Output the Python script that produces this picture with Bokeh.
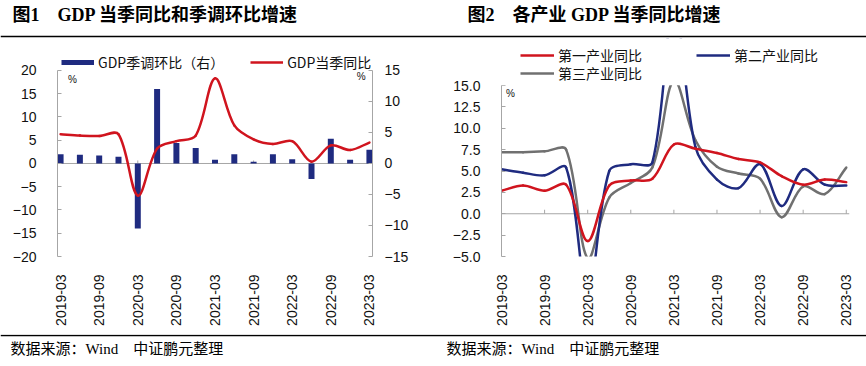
import math
from bokeh.plotting import figure
from bokeh.models import (Range1d, LinearAxis, Span, Label, Legend, LegendItem,
                          ColumnDataSource, FixedTicker, BoxAnnotation)
from bokeh.layouts import column, row
from bokeh.embed import file_html
from bokeh.resources import INLINE
from bokeh.core.properties import value

# ---------------- data ----------------
quarters = ["2019-03", "2019-06", "2019-09", "2019-12",
            "2020-03", "2020-06", "2020-09", "2020-12",
            "2021-03", "2021-06", "2021-09", "2021-12",
            "2022-03", "2022-06", "2022-09", "2022-12",
            "2023-03"]
x_tick_idx = [0, 2, 4, 6, 8, 10, 12, 14, 16]

# chart 1
gdp_qoq = [1.5, 1.4, 1.3, 1.1, -10.5, 12.0, 3.3, 2.5, 0.6, 1.5, 0.3, 1.5, 0.7, -2.5, 4.0, 0.6, 2.2]
gdp_yoy = [6.3, 6.0, 5.9, 6.3, -6.9, 3.2, 4.8, 6.0, 18.3, 8.2, 5.2, 4.2, 4.8, 0.4, 3.9, 2.9, 4.5]

# chart 2
primary_yoy = [2.7, 3.3, 2.7, 3.4, -3.2, 3.3, 3.9, 4.1, 8.1, 7.6, 7.1, 6.4, 6.0, 4.4, 3.4, 4.0, 3.7]
secondary_yoy = [5.2, 4.8, 4.5, 5.4, -9.6, 5.0, 5.8, 6.0, 24.4, 7.8, 4.0, 3.0, 5.8, 0.9, 5.2, 3.4, 3.3]
tertiary_yoy = [7.2, 7.2, 7.3, 7.5, -5.2, 1.9, 3.6, 5.4, 15.6, 8.6, 5.5, 4.7, 4.1, -0.4, 3.2, 2.3, 5.4]

left1_ticks = [-20, -15, -10, -5, 0, 5, 10, 15, 20]
left1_labels = ["−20", "−15", "−10", "−5", "0", "5", "10", "15", "20"]
right1_ticks = [-15, -10, -5, 0, 5, 10, 15]
right1_labels = ["−15", "−10", "−5", "0", "5", "10", "15"]
left2_ticks = [-5.0, -2.5, 0.0, 2.5, 5.0, 7.5, 10.0, 12.5, 15.0]
left2_labels = ["−5.0", "−2.5", "0.0", "2.5", "5.0", "7.5", "10.0", "12.5", "15.0"]

titles = ["图1　GDP 当季同比和季调环比增速", "图2　各产业 GDP 当季同比增速"]
source_notes = ["数据来源：Wind　中证鹏元整理", "数据来源：Wind　中证鹏元整理"]
legend1_labels = ["GDP季调环比（右）", "GDP当季同比"]
legend2_labels = ["第一产业同比", "第二产业同比", "第三产业同比"]

# ---------------- styles ----------------
RED = "#d0141e"
NAVY = "#1f2b80"
GRAY = "#707070"
AXIS = "#a6a6a6"
TICK_FONT = "Liberation Sans"
LEGEND1_FONT = "Noto Sans CJK SC"
LEGEND2_FONT = "Liberation Sans, Noto Sans CJK SC"
SERIF_CJK = "Liberation Serif, Noto Sans CJK SC"
NAN = float("nan")


def smooth_source(ys, sx, sy):
    """Bezier segments through the data points (spreadsheet-style smoothed line);
    sx, sy are pixels per data unit, used only to weight the tangents."""
    n = len(ys)
    pts = [(i * sx, y * sy) for i, y in enumerate(ys)]
    dist = lambda a, b: math.hypot(a[0] - b[0], a[1] - b[1])
    d = dict(x0=[], y0=[], x1=[], y1=[], cx0=[], cy0=[], cx1=[], cy1=[])
    for i in range(n - 1):
        p0 = pts[i - 1] if i > 0 else pts[i]
        p1, p2 = pts[i], pts[i + 1]
        p3 = pts[i + 2] if i + 2 < n else pts[i + 1]
        d01, d12, d23 = dist(p0, p1), dist(p1, p2), dist(p2, p3)
        f1 = d12 / (d01 + d12) if d01 + d12 > 0 else 0.0
        f2 = d12 / (d12 + d23) if d12 + d23 > 0 else 0.0
        c1 = (p1[0] + (p2[0] - p0[0]) * f1 / 3.0, p1[1] + (p2[1] - p0[1]) * f1 / 3.0)
        c2 = (p2[0] - (p3[0] - p1[0]) * f2 / 3.0, p2[1] - (p3[1] - p1[1]) * f2 / 3.0)
        d["x0"].append(i); d["y0"].append(ys[i])
        d["x1"].append(i + 1); d["y1"].append(ys[i + 1])
        d["cx0"].append(c1[0] / sx); d["cy0"].append(c1[1] / sy)
        d["cx1"].append(c2[0] / sx); d["cy1"].append(c2[1] / sy)
    return ColumnDataSource(d)


def style_y_axis(ax, ticks, labels, standoff, bounds):
    ax.ticker = FixedTicker(ticks=ticks)
    ax.major_label_overrides = dict(zip(ticks, labels))
    ax.bounds = bounds
    ax.axis_line_color = AXIS
    ax.major_tick_line_color = AXIS
    ax.major_tick_in = 4
    ax.major_tick_out = 0
    ax.minor_tick_line_color = None
    ax.major_label_text_font = TICK_FONT
    ax.major_label_text_font_size = "14px"
    ax.major_label_text_color = "#111111"
    ax.major_label_standoff = standoff


def style_x_axis(ax):
    ax.ticker = FixedTicker(ticks=x_tick_idx)
    ax.major_label_overrides = {i: quarters[i] for i in x_tick_idx}
    ax.major_label_orientation = math.pi / 2
    ax.axis_line_color = None
    ax.major_tick_line_color = None
    ax.minor_tick_line_color = None
    ax.major_label_text_font = TICK_FONT
    ax.major_label_text_font_size = "14px"
    ax.major_label_text_color = "#111111"
    ax.major_label_standoff = 12


def bare_legend(items, loc, font, font_size, glyph_w, spacing):
    return Legend(items=items, location=loc, orientation="horizontal",
                  glyph_width=glyph_w, glyph_height=24, label_height=24,
                  label_standoff=4, spacing=spacing, padding=0, margin=0,
                  border_line_color=None, background_fill_alpha=0,
                  label_text_font=font, label_text_font_size=font_size,
                  label_text_color="#111111", label_text_baseline="middle")


def legend_proxy(p, color, width):
    # invisible one-point renderer, only used to draw the legend swatch
    return p.line(x=[NAN], y=[NAN], line_color=color, line_width=width)


def clean(p):
    p.outline_line_color = None
    p.grid.visible = False
    p.background_fill_color = None
    p.border_fill_color = None


# ---------------- chart 1 ----------------
# frame: 315 x 218 px; left scale 4.65 px/unit, right scale 6.2 px/unit
p1 = figure(width=433, height=296, x_range=Range1d(-0.16, 16.16), y_range=Range1d(-20, 26.88),
            output_backend="svg", toolbar_location=None,
            min_border_left=57, min_border_right=61, min_border_top=0, min_border_bottom=78)
p1.extra_y_ranges = {"right": Range1d(-15, 20.16)}
clean(p1)
style_y_axis(p1.yaxis[0], left1_ticks, left1_labels, 21, (-20, 20))
style_x_axis(p1.xaxis[0])
rax = LinearAxis(y_range_name="right")
style_y_axis(rax, right1_ticks, right1_labels, 12, (-15, 15))
p1.add_layout(rax, "right")

p1.add_layout(Span(location=0, dimension="width", line_color=AXIS, line_width=1, level="underlay"))
p1.segment(x0=x_tick_idx, y0=[0] * len(x_tick_idx), x1=x_tick_idx, y1=[0.65] * len(x_tick_idx),
           line_color=AXIS, line_width=1)

src_bar = ColumnDataSource(dict(x=list(range(len(quarters))), top=gdp_qoq))
p1.vbar(x="x", top="top", bottom=0, width=0.31, source=src_bar, y_range_name="right",
        fill_color=NAVY, line_color=None)
p1.bezier(x0="x0", y0="y0", x1="x1", y1="y1", cx0="cx0", cy0="cy0", cx1="cx1", cy1="cy1",
          source=smooth_source(gdp_yoy, 19.31, 4.65), line_color=RED, line_width=2.5,
          line_cap="round")

leg1 = bare_legend([LegendItem(label=legend1_labels[0], renderers=[legend_proxy(p1, NAVY, 5)]),
                    LegendItem(label=legend1_labels[1], renderers=[legend_proxy(p1, RED, 2.5)])],
                   (4, 182), LEGEND1_FONT, "14px", 33, 26)
p1.add_layout(leg1, "center")

p1.add_layout(Label(x=0.62, y=18.1, text="%", text_font=TICK_FONT, text_font_size="10px",
                    text_align="center", text_baseline="middle", text_color="#111111"))
p1.add_layout(Label(x=15.58, y=18.7, text="%", text_font=TICK_FONT, text_font_size="10px",
                    text_align="center", text_baseline="middle", text_color="#111111"))

# ---------------- chart 2 ----------------
# frame: 348 x 218 px; 8.55 px/unit (-5..15 over 171 px)
p2 = figure(width=433, height=296, x_range=Range1d(0, 16.15), y_range=Range1d(-5, 20.50),
            output_backend="svg", toolbar_location=None,
            min_border_left=68, min_border_right=17, min_border_top=0, min_border_bottom=78)
clean(p2)
style_y_axis(p2.yaxis[0], left2_ticks, left2_labels, 21, (-5, 15))
style_x_axis(p2.xaxis[0])
p2.add_layout(Span(location=0, dimension="width", line_color=AXIS, line_width=1, level="underlay"))
t2 = x_tick_idx[1:]
p2.segment(x0=t2, y0=[0] * len(t2), x1=t2, y1=[0.47] * len(t2), line_color=AXIS, line_width=1)

series2 = [(tertiary_yoy, GRAY), (secondary_yoy, NAVY), (primary_yoy, RED)]
for ys, col in series2:
    p2.bezier(x0="x0", y0="y0", x1="x1", y1="y1", cx0="cx0", cy0="cy0", cx1="cx1", cy1="cy1",
              source=smooth_source(ys, 21.55, 8.55), line_color=col, line_width=2.5,
              line_cap="round")

# plot area ends at 15.0: mask what lies above it (white stroke widens the mask by 2 px)
p2.add_layout(BoxAnnotation(bottom=15.27, fill_color="white", fill_alpha=1.0,
                            line_color="white", line_width=4, line_alpha=1.0))

leg2a = bare_legend([LegendItem(label=legend2_labels[0], renderers=[legend_proxy(p2, RED, 2.5)]),
                     LegendItem(label=legend2_labels[1], renderers=[legend_proxy(p2, NAVY, 2.5)])],
                    (19, 189), LEGEND2_FONT, "14px", 34, 54)
leg2b = bare_legend([LegendItem(label=legend2_labels[2], renderers=[legend_proxy(p2, GRAY, 2.5)])],
                    (19, 171), LEGEND2_FONT, "14px", 34, 54)
p2.add_layout(leg2a, "center")
p2.add_layout(leg2b, "center")
p2.add_layout(Label(x=0.42, y=14.03, text="%", text_font=TICK_FONT, text_font_size="10px",
                    text_align="center", text_baseline="middle", text_color="#111111"))

# ---------------- title & footer strips ----------------
def strip(h):
    f = figure(width=866, height=h, x_range=Range1d(0, 866), y_range=Range1d(h, 0),
               x_axis_location=None, y_axis_location=None, min_border=0,
               output_backend="svg", toolbar_location=None)
    clean(f)
    return f

top = strip(38)
top.text(x=[12, 467], y=[14, 14], text=titles, text_font=value(SERIF_CJK),
         text_font_size="18px", text_font_style="bold", text_baseline="middle",
         text_align="left", text_color="#000000")
top.segment(x0=[0], y0=[36], x1=[866], y1=[36], line_color="#000000", line_width=1.5)

bot = strip(32)
bot.segment(x0=[0], y0=[1], x1=[866], y1=[1], line_color="#000000", line_width=1.5)
bot.text(x=[10, 446], y=[14, 14], text=source_notes, text_font=value(SERIF_CJK),
         text_font_size="15px", text_baseline="middle", text_align="left", text_color="#000000")

layout = column(top, row(p1, p2), bot)
open("out.html", "w").write(file_html(layout, INLINE))
